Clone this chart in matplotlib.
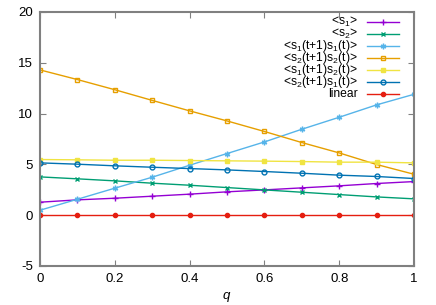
import matplotlib
matplotlib.use("Agg")
import matplotlib.pyplot as plt
from matplotlib.lines import Line2D
import numpy as np

plt.rcParams['font.family'] = ['Liberation Sans', 'DejaVu Sans']
plt.rcParams['mathtext.fontset'] = 'custom'
plt.rcParams['mathtext.rm'] = 'Liberation Sans'
plt.rcParams['mathtext.it'] = 'Liberation Sans:italic'

q = [0.0, 0.1, 0.2, 0.3, 0.4, 0.5, 0.6, 0.7, 0.8, 0.9, 1.0]
s1 = [1.28, 1.51, 1.67, 1.87, 2.07, 2.30, 2.49, 2.69, 2.89, 3.12, 3.31]
s2 = [3.77, 3.58, 3.38, 3.15, 2.95, 2.72, 2.49, 2.26, 2.03, 1.80, 1.61]
s1s1 = [0.49, 1.57, 2.66, 3.74, 4.92, 6.07, 7.21, 8.46, 9.64, 10.86, 11.90]
s2s2 = [14.30, 13.35, 12.35, 11.30, 10.27, 9.28, 8.24, 7.15, 6.13, 4.99, 4.03]
s1s2 = [5.48, 5.45, 5.41, 5.41, 5.38, 5.35, 5.32, 5.28, 5.22, 5.22, 5.15]
s2s1 = [5.15, 5.02, 4.86, 4.72, 4.59, 4.46, 4.30, 4.13, 3.94, 3.81, 3.61]
linear = [0, 0, 0, 0, 0, 0, 0, 0, 0, 0, 0]

labels = ['<s$_1$>', '<s$_2$>', '<s$_1$(t+1)s$_1$(t)>', '<s$_2$(t+1)s$_2$(t)>',
          '<s$_1$(t+1)s$_2$(t)>', '<s$_2$(t+1)s$_1$(t)>', 'linear']
series = [s1, s2, s1s1, s2s2, s1s2, s2s1, linear]
colors = ['#9400d3', '#009e73', '#56b4e9', '#e69f00', '#f0e442', '#0072b2', '#e51e10']
markers = ['+', 'x', (6, 2, 0), 's', 's', 'o', 'o']
filled = [True, True, True, False, True, False, True]
msizes = [4, 3.5, 4, 3.5, 3.5, 3.5, 3]

W, H = 436, 305
fig = plt.figure(figsize=(W/100, H/100), dpi=100)
ax = fig.add_axes([40/W, 1-266/H, 374/W, 254/H])

def fx(px):
    return px / W

def fy(py):
    return 1 - py / H

for i, (y, lab, c, m, f, ms) in enumerate(zip(series, labels, colors, markers, filled, msizes)):
    style = dict(color=c, lw=1.0, marker=m, markersize=ms,
                 markerfacecolor=c if f else 'none', markeredgecolor=c, markeredgewidth=1.0)
    ax.plot(q, y, **style)
    # legend entry (gnuplot style: text right-aligned, sample to the right)
    ly = 22 + 12 * i
    fig.text(fx(358), fy(ly), lab, ha='right', va='center', fontsize=8.7)
    fig.add_artist(Line2D([fx(367), fx(399)], [fy(ly), fy(ly)], transform=fig.transFigure,
                          color=c, lw=1.0))
    fig.add_artist(Line2D([fx(383)], [fy(ly)], transform=fig.transFigure, linestyle='none',
                          marker=m, markersize=ms, markerfacecolor=c if f else 'none',
                          markeredgecolor=c, markeredgewidth=1.0))

ax.set_xlim(0, 1)
ax.set_ylim(-5, 20)
ax.set_xticks([0, 0.2, 0.4, 0.6, 0.8, 1])
ax.set_xticklabels(['0', '0.2', '0.4', '0.6', '0.8', '1'])
ax.set_yticks([-5, 0, 5, 10, 15, 20])
ax.set_yticklabels(['-5', '0', '5', '10', '15', '20'])
ax.tick_params(direction='in', top=True, right=True, length=4, width=0.8,
               color='#808080', labelsize=9.5, pad=5)
for sp in ax.spines.values():
    sp.set_color('#808080')
    sp.set_linewidth(1.5)
fig.text(fx(227), fy(297), '$\\mathit{q}$', ha='center', va='center', fontsize=9.5)

fig.savefig('out.png', dpi=100)
